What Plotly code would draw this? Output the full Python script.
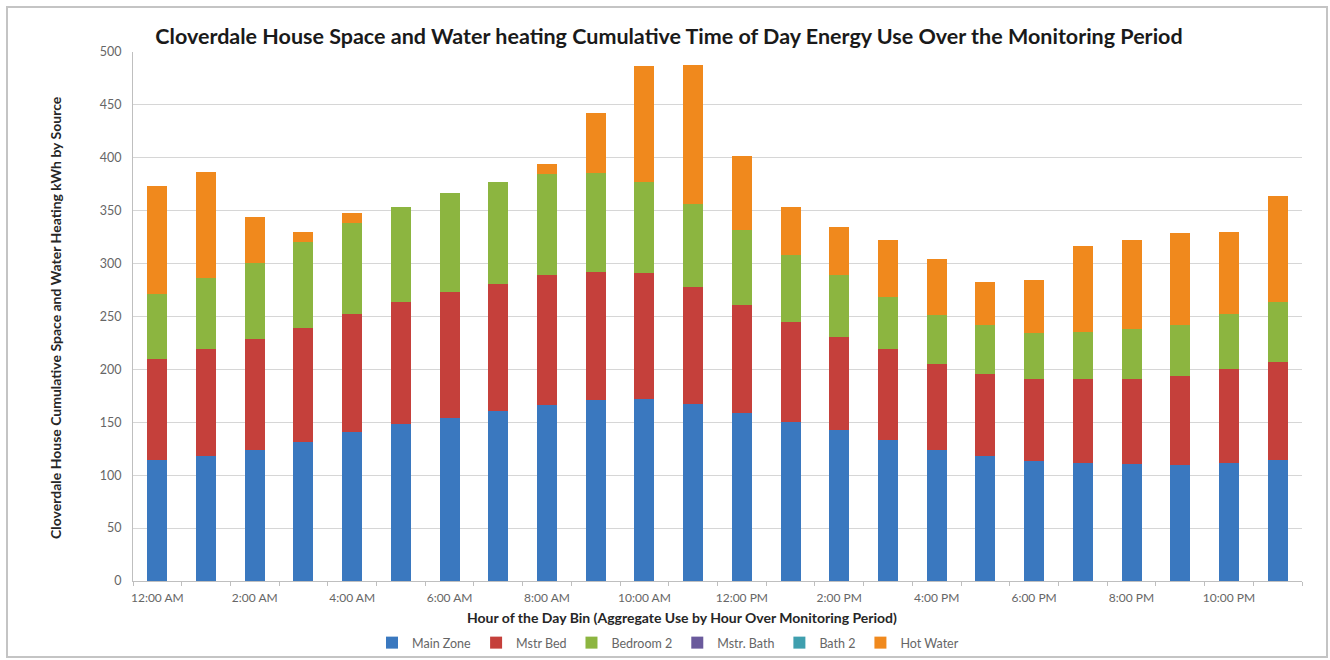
import plotly.graph_objects as go

# Hour-of-day bins
hours = [
    "12:00 AM", "1:00 AM", "2:00 AM", "3:00 AM", "4:00 AM", "5:00 AM",
    "6:00 AM", "7:00 AM", "8:00 AM", "9:00 AM", "10:00 AM", "11:00 AM",
    "12:00 PM", "1:00 PM", "2:00 PM", "3:00 PM", "4:00 PM", "5:00 PM",
    "6:00 PM", "7:00 PM", "8:00 PM", "9:00 PM", "10:00 PM", "11:00 PM",
]

# Cumulative kWh per source for each hour bin
main_zone = [114, 118, 123.5, 131.5, 141, 148.5, 154.5, 161, 166, 171, 172.5, 167,
             159, 150.5, 142.5, 133, 123.5, 118, 113, 111.5, 111, 109.5, 111.5, 114]
mstr_bed = [95.5, 101.5, 105, 107.5, 111.5, 115, 118.5, 120, 123, 121, 118.5, 111,
            101.5, 94.5, 88, 86.5, 82, 78, 77.5, 79, 79.5, 84, 88.5, 93]
bedroom_2 = [62, 66.5, 72, 81.5, 85.5, 90, 93.5, 96, 96, 93.5, 86, 78,
             71.5, 63, 58.5, 49, 45.5, 45.5, 44, 45, 47.5, 48, 52, 56.5]
mstr_bath = [0] * 24
bath_2 = [0] * 24
hot_water = [102, 101, 43.5, 9, 9.5, 0, 0, 0, 9.5, 56.5, 109.5, 131.5,
             69.5, 45.5, 45.5, 53.5, 53.5, 41, 50, 81, 84.5, 87.5, 77.5, 100]

series = [
    ("Main Zone", main_zone, "#3a78bf"),
    ("Mstr Bed", mstr_bed, "#c5403b"),
    ("Bedroom 2", bedroom_2, "#8cb540"),
    ("Mstr. Bath", mstr_bath, "#6a5a9c"),
    ("Bath 2", bath_2, "#3f9fae"),
    ("Hot Water", hot_water, "#f0891d"),
]

y_ticks = [0, 50, 100, 150, 200, 250, 300, 350, 400, 450, 500]

FONT = "Lato, Carlito, Calibri, sans-serif"

fig = go.Figure()
for name, values, color in series:
    fig.add_trace(go.Bar(
        x=hours, y=values, name=name,
        marker=dict(color=color, line=dict(width=0)),
    ))

# Plot area geometry in pixels (used to place the outer frame and titles)
W, H = 1330, 660
L, R, T, B = 133, 28, 52, 79
pw, ph = W - L - R, H - T - B


def px_x(x):
    return (x - L) / pw


def px_y(y):
    return (H - B - y) / ph


fig.update_layout(
    width=W, height=H,
    margin=dict(l=L, r=R, t=T, b=B, autoexpand=False),
    barmode="stack",
    bargap=0.59,
    paper_bgcolor="white",
    plot_bgcolor="white",
    font=dict(family=FONT, color="#595959"),
    title=dict(
        text="<b>Cloverdale House Space and Water heating Cumulative Time of Day Energy Use Over the Monitoring Period</b>",
        x=669 / W, xanchor="center",
        y=1 - 36 / H, yanchor="middle",
        font=dict(family=FONT, size=21.5, color="#1a1a1a"),
    ),
    legend=dict(
        orientation="h",
        x=px_x(668), xanchor="center",
        y=px_y(643), yanchor="middle",
        font=dict(family=FONT, size=12.5, color="#666666"),
        bgcolor="rgba(0,0,0,0)",
        traceorder="normal",
        itemclick=False,
        tracegroupgap=0,
    ),
    showlegend=True,
)

fig.update_xaxes(
    type="category",
    tickmode="array",
    tickvals=hours,
    ticktext=[h if i % 2 == 0 else "" for i, h in enumerate(hours)],
    tickangle=0,
    tickson="boundaries",
    ticks="outside", ticklen=4, tickcolor="#bfbfbf",
    ticklabelstandoff=6,
    showline=True, linecolor="#bfbfbf", linewidth=1,
    showgrid=False,
    tickfont=dict(family=FONT, size=12, color="#666666"),
)

fig.update_yaxes(
    range=[0, 500],
    tickmode="array", tickvals=y_ticks,
    showgrid=True, gridcolor="#d6d6d6", gridwidth=1,
    showline=True, linecolor="#bfbfbf", linewidth=1,
    zeroline=False,
    ticks="", ticklabelstandoff=8,
    tickfont=dict(family=FONT, size=12.5, color="#666666"),
)

# Axis titles
fig.add_annotation(
    text="<b>Cloverdale House Cumulative Space and Water Heating kWh by Source</b>",
    xref="paper", yref="paper", x=px_x(55), y=px_y(318),
    xanchor="center", yanchor="middle",
    textangle=-90, showarrow=False,
    font=dict(family=FONT, size=14, color="#262626"),
)
fig.add_annotation(
    text="<b>Hour of the Day Bin (Aggregate Use by Hour Over Monitoring Period)</b>",
    xref="paper", yref="paper", x=px_x(682), y=px_y(617),
    xanchor="center", yanchor="middle",
    showarrow=False,
    font=dict(family=FONT, size=14, color="#262626"),
)

# Chart-area frame
fig.add_shape(
    type="rect", xref="paper", yref="paper",
    x0=px_x(7), x1=px_x(1327), y0=px_y(657), y1=px_y(7),
    line=dict(color="#c4c4c4", width=2), fillcolor="rgba(0,0,0,0)",
    layer="below",
)

fig.write_html("out.html")
